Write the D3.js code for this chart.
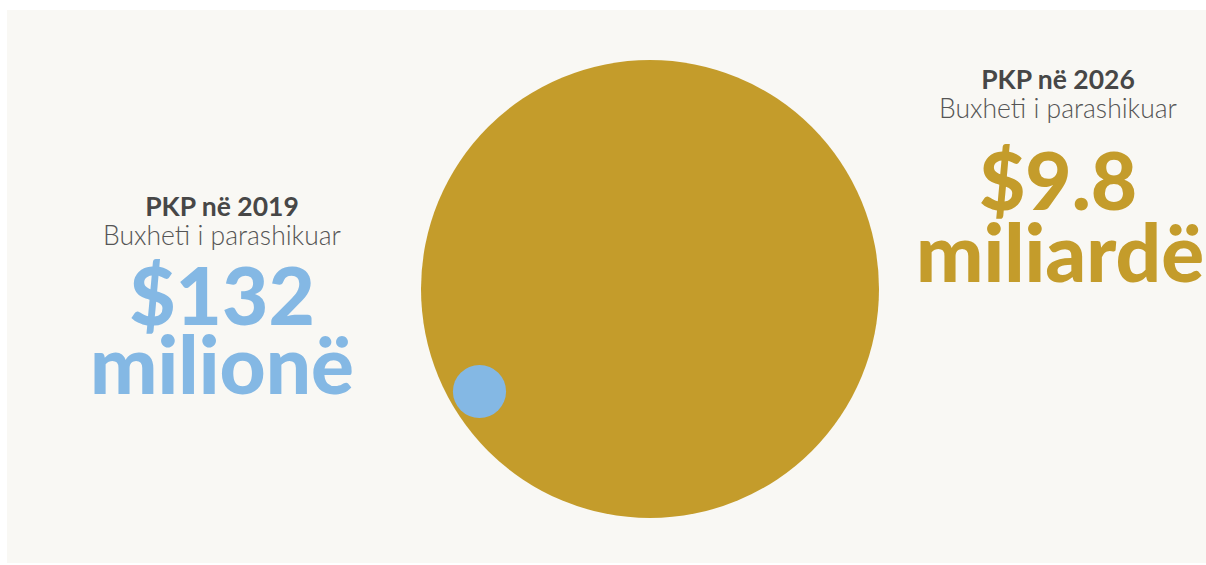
<!DOCTYPE html>
<html>
<head>
<meta charset="utf-8">
<script src="https://cdn.jsdelivr.net/npm/d3@7"></script>
<style>
  body { margin: 0; background: #ffffff; }
  svg { display: block; }
  text { font-family: Lato, "Noto Sans", sans-serif; }
</style>
</head>
<body>
<div id="chart"></div>
<script>
// budget data
var years = ["2019", "2026"];
var budgets = [132e6, 9.8e9];
var amountLabels = ["$132", "$9.8"];
var unitLabels = ["milionë", "miliardë"];
var subtitle = "Buxheti i parashikuar";

var colors = ["#84b8e4", "#c49c2b"];

var width = 1206,
    height = 565;

var svg = d3.select("#chart")
    .append("svg")
    .attr("width", width)
    .attr("height", height);

// panel background
svg.append("rect")
    .attr("x", 7)
    .attr("y", 10)
    .attr("width", width - 7)
    .attr("height", 553)
    .attr("fill", "#f9f8f4");

// circle size by area
var r = d3.scaleSqrt()
    .domain([0, d3.max(budgets)])
    .range([0, 229]);

var cx = 650, cy = 289;

// small circle sits inside the big one, near its lower-left edge
var angle = 149 * Math.PI / 180;
function circlePos(d, i) {
    if (i == 1) return [cx, cy];
    var dist = r(budgets[1]) - r(d) - 3.5;
    return [cx + dist * Math.cos(angle), cy + dist * Math.sin(angle)];
}

// big first so the small one is on top
var order = [1, 0];
svg.append("g")
    .selectAll("circle")
    .data(order)
    .enter()
    .append("circle")
    .attr("cx", function(i) { return circlePos(budgets[i], i)[0]; })
    .attr("cy", function(i) { return circlePos(budgets[i], i)[1]; })
    .attr("r", function(i) { return r(budgets[i]); })
    .attr("fill", function(i) { return colors[i]; });

// label blocks
var labelX = [222, 1058];
var labelY = [216, 89];

var labels = svg.append("g")
    .selectAll("g")
    .data(years)
    .enter()
    .append("g")
    .attr("transform", function(d, i) { return "translate(" + labelX[i] + "," + labelY[i] + ")"; })
    .attr("text-anchor", "middle");

labels.append("text")
    .attr("font-size", "26.5px")
    .attr("font-weight", "bold")
    .attr("fill", "#474747")
    .text(function(d) { return "PKP në " + d; });

labels.append("text")
    .attr("y", 29)
    .attr("font-size", "26.5px")
    .attr("font-weight", 300)
    .attr("fill", "#555555")
    .text(subtitle);

labels.append("text")
    .attr("y", function(d, i) { return i == 0 ? 109 : 121; })
    .attr("font-size", "80px")
    .attr("font-weight", 900)
    .attr("fill", function(d, i) { return colors[i]; })
    .text(function(d, i) { return amountLabels[i]; });

labels.append("text")
    .attr("y", function(d, i) { return i == 0 ? 178 : 193; })
    .attr("x", function(d, i) { return i == 0 ? 0 : 2; })
    .attr("font-size", "80px")
    .attr("font-weight", 900)
    .attr("fill", function(d, i) { return colors[i]; })
    .text(function(d, i) { return unitLabels[i]; });
</script>
</body>
</html>
